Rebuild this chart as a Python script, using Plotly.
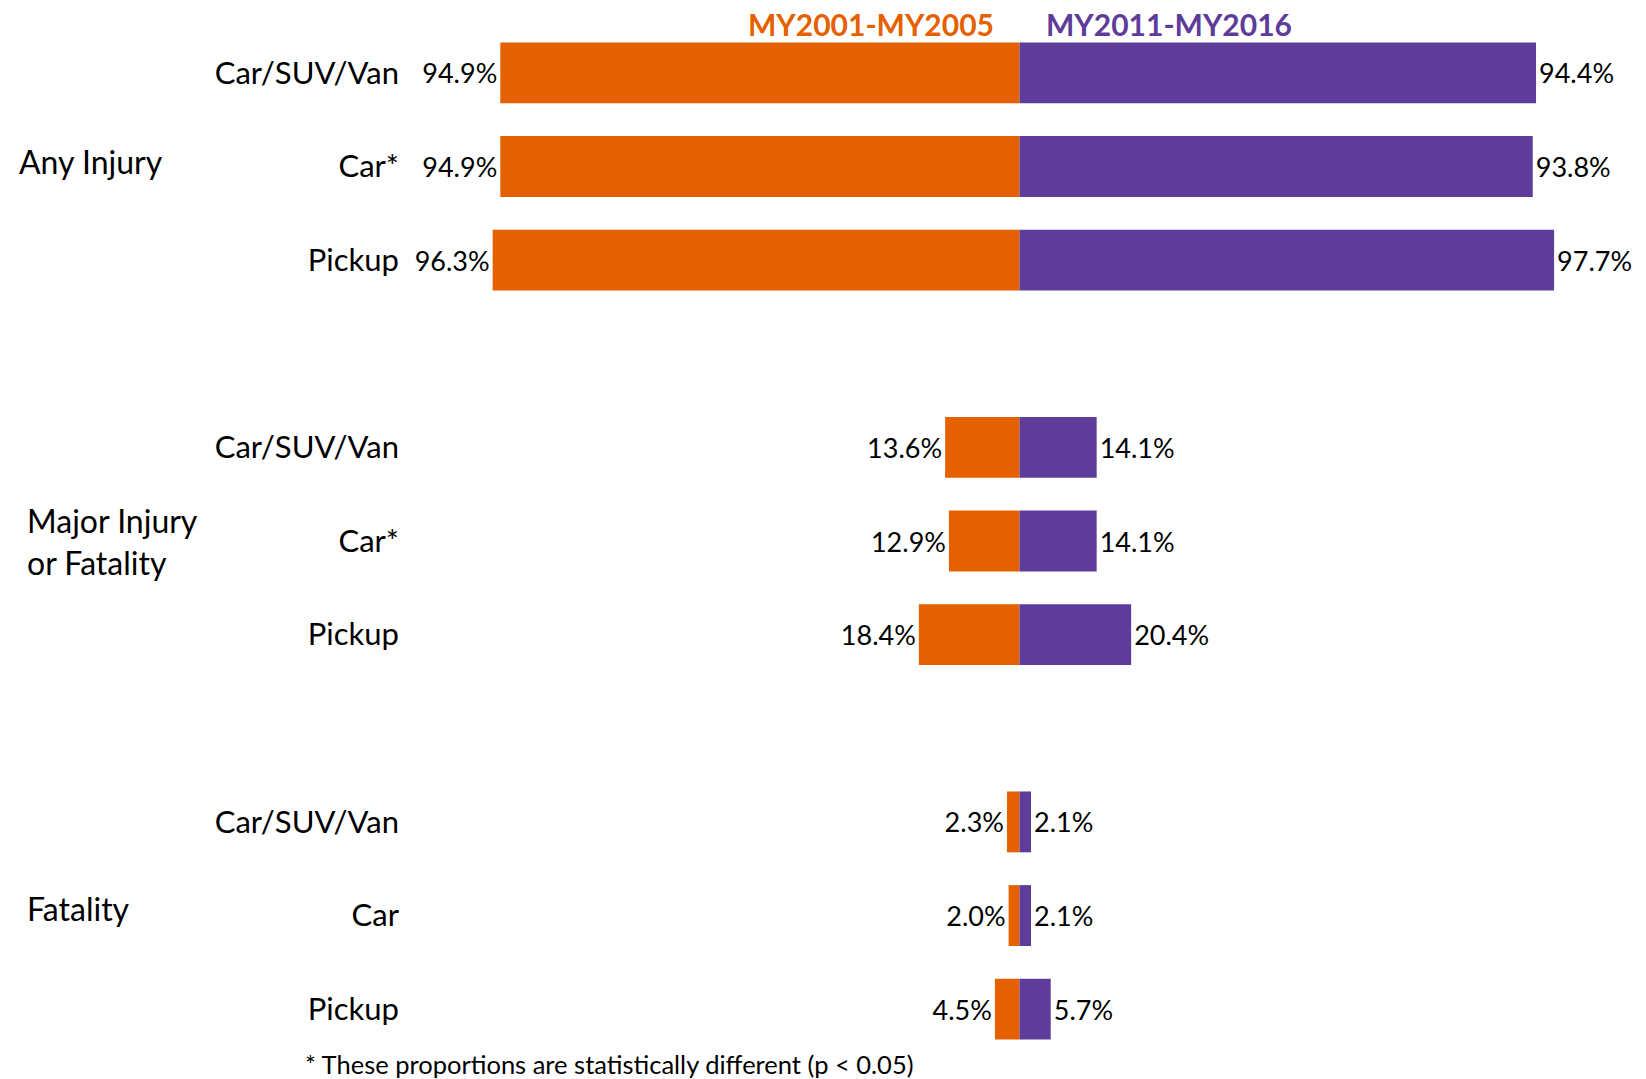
import plotly.graph_objects as go

# rows, top to bottom
vehicles = ["Car/SUV/Van", "Car*", "Pickup",
            "Car/SUV/Van", "Car*", "Pickup",
            "Car/SUV/Van", "Car", "Pickup"]
outcomes = ["Any Injury", "Major Injury<br>or Fatality", "Fatality"]
my2001_2005 = [94.9, 94.9, 96.3, 13.6, 12.9, 18.4, 2.3, 2.0, 4.5]
my2011_2016 = [94.4, 93.8, 97.7, 14.1, 14.1, 20.4, 2.1, 2.1, 5.7]
series_names = ["MY2001-MY2005", "MY2011-MY2016"]

ORANGE = "#E56100"
PURPLE = "#5E3C99"
FONT = "Lato"

# three rows per outcome, one empty row between outcomes
ypos = [g * 4 + r for g in range(3) for r in range(3)]

fig = go.Figure()

fig.add_trace(go.Bar(
    y=ypos, x=[-v for v in my2001_2005], orientation="h",
    marker_color=ORANGE, marker_line_width=0, width=0.65,
    text=[f"{v:.1f}%" for v in my2001_2005], textposition="outside",
    textfont=dict(size=27, color="black", family=FONT),
    cliponaxis=False, name=series_names[0],
))
fig.add_trace(go.Bar(
    y=ypos, x=my2011_2016, orientation="h",
    marker_color=PURPLE, marker_line_width=0, width=0.65,
    text=[f"{v:.1f}%" for v in my2011_2016], textposition="outside",
    textfont=dict(size=27, color="black", family=FONT),
    cliponaxis=False, name=series_names[1],
))

fig.update_layout(
    width=1646, height=1079,
    margin=dict(l=404, r=0, t=26, b=23),
    barmode="relative",
    showlegend=False,
    plot_bgcolor="white", paper_bgcolor="white",
    font=dict(family=FONT, size=28, color="black"),
)
fig.update_xaxes(range=[-112.5, 114.5], visible=False, fixedrange=True)
fig.update_yaxes(
    range=[10.5, -0.5], tickvals=ypos, ticktext=vehicles,
    showgrid=False, zeroline=False, showline=False, ticks="",
    ticklabelstandoff=4,
    tickfont=dict(size=31, family=FONT, color="black"),
)

# outcome group labels
for g, (label, shift) in enumerate(zip(outcomes, [5, 0, 7])):
    fig.add_annotation(
        text=label, xref="paper", yref="y", x=-0.3052 if g else -0.3116, y=g * 4 + 1,
        yshift=shift, xanchor="left", yanchor="middle", align="left",
        showarrow=False, font=dict(size=32, family=FONT, color="black"),
    )

# series headers
fig.add_annotation(text=f"<b>{series_names[0]}</b>", xref="x", yref="paper",
                   x=0, y=1.002, xanchor="right", yanchor="middle", xshift=-24,
                   showarrow=False, font=dict(size=30, family=FONT, color=ORANGE))
fig.add_annotation(text=f"<b>{series_names[1]}</b>", xref="x", yref="paper",
                   x=0, y=1.002, xanchor="left", yanchor="middle", xshift=24,
                   showarrow=False, font=dict(size=30, family=FONT, color=PURPLE))

# footnote
fig.add_annotation(text="* These proportions are statistically different (p < 0.05)",
                   xref="paper", yref="paper", x=-0.0813, y=-0.0075,
                   xanchor="left", yanchor="middle", showarrow=False,
                   font=dict(size=25.5, family=FONT, color="black"))

# drop the default 8px page margin so the figure fills the window
fig.write_html("out.html", config={"displayModeBar": False},
               post_script="document.body.style.margin='0px';")
